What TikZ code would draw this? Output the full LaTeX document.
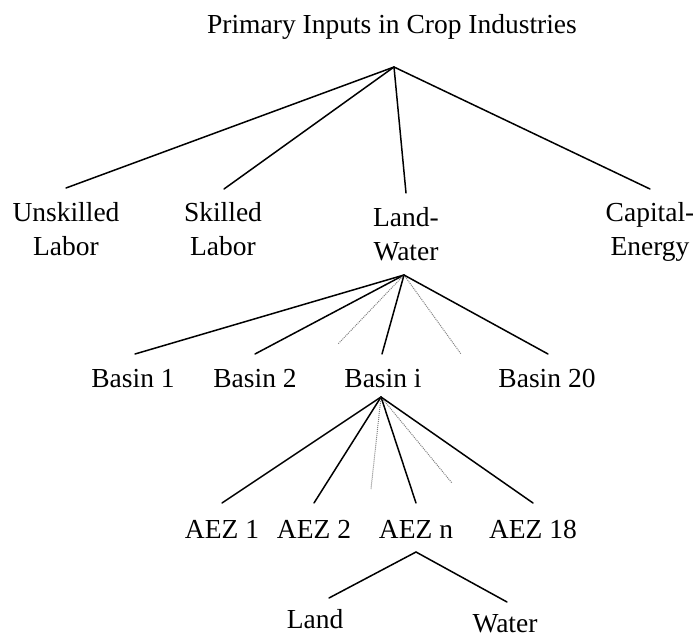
\documentclass[tikz,border=0pt]{standalone}
\usepackage{fontspec}
\setmainfont{Liberation Serif}
\begin{document}
\begin{tikzpicture}[x=1pt,y=-1pt,
  lbl/.style={font=\fontsize{27.5}{34}\selectfont, inner sep=0pt, anchor=base, align=center},
  link/.style={line width=1.5pt, black, line cap=round},
  faint/.style={line width=1pt, gray, densely dotted}]
\useasboundingbox (0,0) rectangle (693,637);
% level 0
\node[lbl] (title) at (392,33) {Primary Inputs in Crop Industries};
\coordinate (h1) at (394,67);
% level 1 (base = baseline of last line)
\node[lbl] (unsk) at (66,255) {Unskilled\\Labor};
\node[lbl] (skil) at (223,255) {Skilled\\Labor};
\node[lbl] (lw) at (406,260) {Land-\\Water};
\node[lbl] (cap) at (650,255) {Capital-\\Energy};
\coordinate (e-unsk) at (66,188);
\coordinate (e-skil) at (224,189);
\coordinate (e-lw) at (406,193);
\coordinate (e-cap) at (650,189);
\draw[link] (h1) -- (e-unsk);
\draw[link] (h1) -- (e-skil);
\draw[link] (h1) -- (e-lw);
\draw[link] (h1) -- (e-cap);
% level 2
\coordinate (h2) at (404,275);
\node[lbl] (b1) at (133,387) {Basin 1};
\node[lbl] (b2) at (255,387) {Basin 2};
\node[lbl] (bi) at (383,387) {Basin i};
\node[lbl] (b20) at (547,387) {Basin 20};
\coordinate (e-b1) at (135,354);
\coordinate (e-b2) at (255,354);
\coordinate (d-b1) at (338,344);
\coordinate (e-bi) at (382,354);
\coordinate (d-b2) at (461,354);
\coordinate (e-b20) at (548,354);
\draw[link] (h2) -- (e-b1);
\draw[link] (h2) -- (e-b2);
\draw[faint] (h2) -- (d-b1);
\draw[link] (h2) -- (e-bi);
\draw[faint] (h2) -- (d-b2);
\draw[link] (h2) -- (e-b20);
% level 3
\coordinate (h3) at (381,397);
\node[lbl] (a1) at (222,538) {AEZ 1};
\node[lbl] (a2) at (314,538) {AEZ 2};
\node[lbl] (an) at (416,538) {AEZ n};
\node[lbl] (a18) at (533,538) {AEZ 18};
\coordinate (e-a1) at (222,503);
\coordinate (e-a2) at (314,503);
\coordinate (d-a1) at (371,489);
\coordinate (e-an) at (416,503);
\coordinate (d-a2) at (452,483);
\coordinate (e-a18) at (533,503);
\draw[link] (h3) -- (e-a1);
\draw[link] (h3) -- (e-a2);
\draw[faint] (h3) -- (d-a1);
\draw[link] (h3) -- (e-an);
\draw[faint] (h3) -- (d-a2);
\draw[link] (h3) -- (e-a18);
% level 4
\coordinate (h4) at (416,552);
\node[lbl] (land) at (315,628) {Land};
\node[lbl] (water) at (505,632) {Water};
\coordinate (e-land) at (329,598);
\coordinate (e-water) at (507,602);
\draw[link] (h4) -- (e-land);
\draw[link] (h4) -- (e-water);
\end{tikzpicture}
\end{document}
